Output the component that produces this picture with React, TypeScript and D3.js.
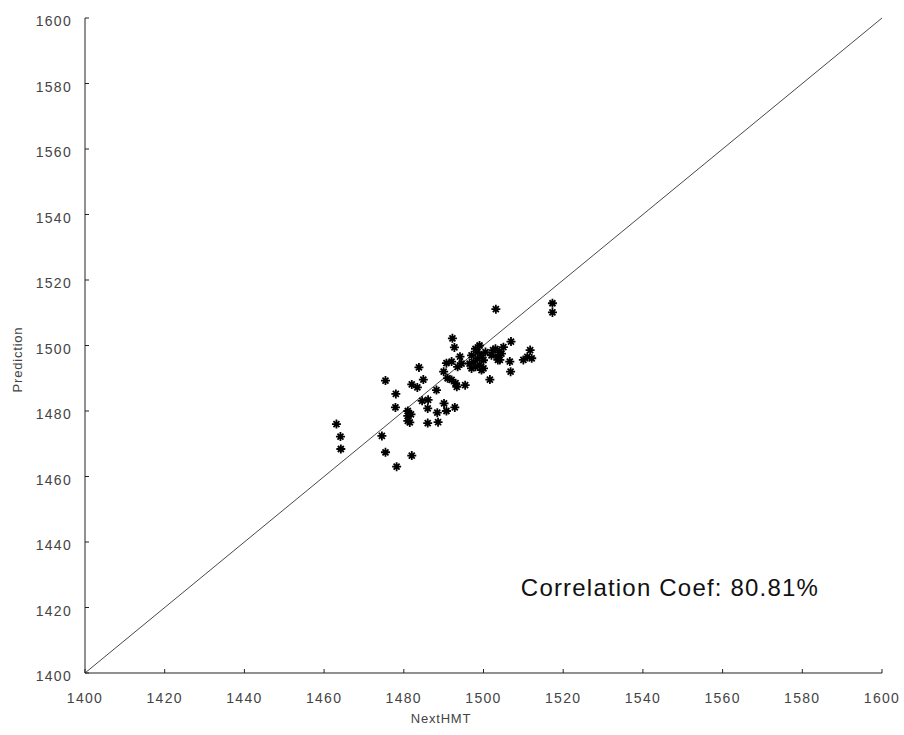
import React, { useEffect, useRef } from 'react';
import * as d3 from 'd3';

const xTicks = [1400, 1420, 1440, 1460, 1480, 1500, 1520, 1540, 1560, 1580, 1600];
const yTicks = [1400, 1420, 1440, 1460, 1480, 1500, 1520, 1540, 1560, 1580, 1600];

// NextHMT (actual) vs Prediction
const actual = [
  1463.1, 1464.1, 1464.2, 1475.4, 1478.0, 1477.9, 1474.5, 1475.4, 1478.2, 1482.0,
  1481.0, 1481.0, 1481.0, 1481.8, 1481.5,
  1483.8, 1484.9, 1482.0, 1483.4, 1486.1, 1484.6, 1486.0, 1488.2, 1490.1, 1492.8, 1488.4, 1490.7, 1486.0, 1488.6,
  1492.2, 1492.7, 1490.7, 1492.0, 1490.0, 1494.1, 1492.0, 1493.3, 1495.4, 1493.0, 1491.0, 1494.5, 1493.5,
  1497.0, 1498.0, 1499.0, 1497.5, 1498.5, 1499.5, 1498.0, 1499.0, 1500.0, 1497.0, 1499.5, 1498.5, 1500.0, 1496.5, 1500.5,
  1501.6, 1502.0, 1503.0, 1504.0, 1505.0, 1503.5, 1504.5, 1506.9, 1504.1, 1506.6, 1506.8, 1510.0, 1511.7, 1512.1, 1511.0,
  1503.1, 1517.3, 1517.3, 1503.6, 1502.4
];
const predicted = [
  1476.0, 1472.2, 1468.4, 1489.3, 1485.2, 1481.1, 1472.4, 1467.4, 1463.0, 1466.4,
  1480.0, 1478.5, 1477.0, 1479.0, 1476.5,
  1493.3, 1489.6, 1488.1, 1487.2, 1483.4, 1483.1, 1480.8, 1486.4, 1482.3, 1481.1, 1479.5, 1480.0, 1476.3, 1476.6,
  1502.2, 1499.4, 1494.6, 1495.1, 1492.0, 1496.6, 1489.5, 1487.4, 1487.9, 1488.5, 1490.0, 1494.5, 1493.5,
  1497.0, 1499.0, 1500.0, 1495.0, 1496.0, 1497.0, 1493.5, 1494.0, 1495.5, 1493.0, 1492.5, 1498.0, 1493.0, 1494.5, 1498.0,
  1489.6, 1497.0, 1499.0, 1498.0, 1499.5, 1496.6, 1497.5, 1501.2, 1495.6, 1495.1, 1492.0, 1495.6, 1498.6, 1496.1, 1496.5,
  1511.1, 1512.9, 1510.1, 1495.6, 1498.6
];

const App = () => {
  const svgRef = useRef<SVGSVGElement>(null);

  useEffect(() => {
    document.body.style.margin = '0';
    if (!svgRef.current) return;
    const svg = d3.select(svgRef.current);
    svg.selectAll('*').remove();

    const x = d3.scaleLinear().domain([1400, 1600]).range([85, 882]);
    const y = d3.scaleLinear().domain([1400, 1600]).range([673, 18]);
    const font = '"Liberation Sans", Arial, sans-serif';

    svg.append('rect').attr('width', 904).attr('height', 735).attr('fill', 'white');

    // diagonal y = x
    svg.append('line')
      .attr('x1', x(1400)).attr('y1', y(1400))
      .attr('x2', x(1600)).attr('y2', y(1600))
      .attr('stroke', '#333').attr('stroke-width', 0.9);

    // axes lines
    svg.append('line').attr('x1', x(1400)).attr('y1', y(1400)).attr('x2', x(1600)).attr('y2', y(1400))
      .attr('stroke', '#222').attr('stroke-width', 1);
    svg.append('line').attr('x1', x(1400)).attr('y1', y(1400)).attr('x2', x(1400)).attr('y2', y(1600))
      .attr('stroke', '#222').attr('stroke-width', 1);

    // x ticks
    xTicks.forEach(t => {
      svg.append('line').attr('x1', x(t)).attr('x2', x(t)).attr('y1', y(1400)).attr('y2', y(1400) - 4)
        .attr('stroke', '#222');
      svg.append('text').attr('x', x(t)).attr('y', 703)
        .attr('text-anchor', 'middle').attr('font-family', font).attr('font-size', 14)
        .attr('letter-spacing', 1.3).attr('fill', '#444').text(t);
    });

    // y ticks
    yTicks.forEach(t => {
      svg.append('line').attr('x1', x(1400)).attr('x2', x(1400) + 4).attr('y1', y(t)).attr('y2', y(t))
        .attr('stroke', '#222');
      svg.append('text').attr('x', 72).attr('y', y(t) + 8)
        .attr('text-anchor', 'end').attr('font-family', font).attr('font-size', 14)
        .attr('letter-spacing', 1.3).attr('fill', '#444').text(t);
    });

    // axis labels
    svg.append('text').attr('x', 441).attr('y', 723)
      .attr('text-anchor', 'middle').attr('font-family', font).attr('font-size', 13)
      .attr('letter-spacing', 0.8).attr('fill', '#444').text('NextHMT');
    svg.append('text')
      .attr('transform', `translate(22, ${y(1500) + 14}) rotate(-90)`)
      .attr('text-anchor', 'middle').attr('font-family', font).attr('font-size', 13)
      .attr('letter-spacing', 0.8).attr('fill', '#444').text('Prediction');

    // star markers
    const star = 'M-4.5,0L4.5,0M0,-4.5L0,4.5M-3,-3L3,3M-3,3L3,-3';
    svg.append('g').selectAll('path')
      .data(actual.map((a, i) => [a, predicted[i]]))
      .enter().append('path')
      .attr('transform', d => `translate(${x(d[0])},${y(d[1])})`)
      .attr('d', star)
      .attr('stroke', '#000').attr('stroke-width', 1.8).attr('fill', 'none');

    // annotation
    svg.append('text').attr('x', 670).attr('y', 596)
      .attr('text-anchor', 'middle').attr('font-family', font).attr('font-size', 24)
      .attr('letter-spacing', 1.2).attr('fill', '#111').text('Correlation Coef: 80.81%');
  }, []);

  return <svg ref={svgRef} width={904} height={735} style={{ display: 'block' }} />;
};

export default App;
